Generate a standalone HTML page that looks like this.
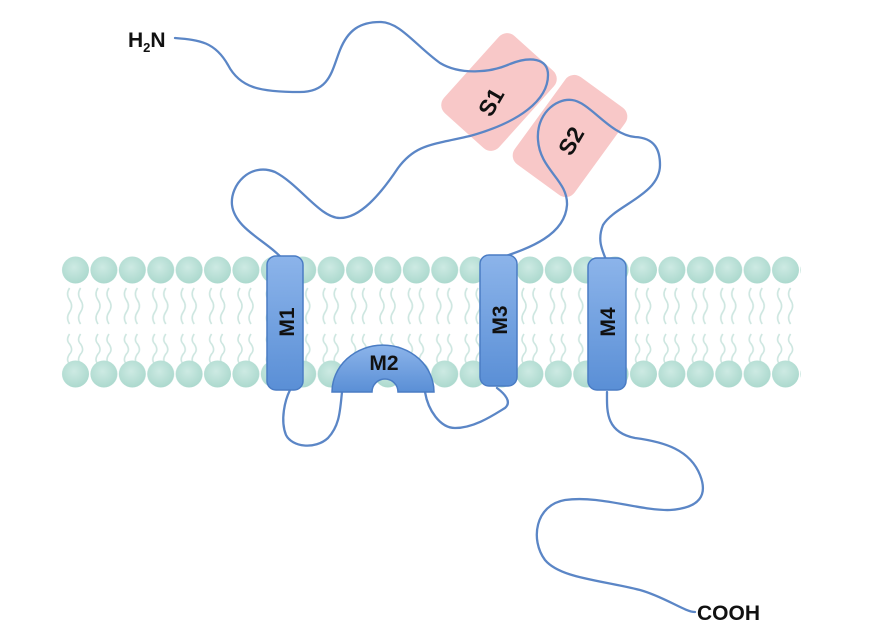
<!DOCTYPE html>
<html><head><meta charset="utf-8"><style>
html,body{margin:0;padding:0;background:#fff;}
svg{display:block}
text{font-family:"Liberation Sans",sans-serif;font-weight:bold;}
</style></head><body>
<svg width="885" height="644" viewBox="0 0 885 644" xmlns="http://www.w3.org/2000/svg">
<defs>
<radialGradient id="hg" cx="0.45" cy="0.4" r="0.6">
<stop offset="0" stop-color="#cdeae3"/><stop offset="1" stop-color="#acd9ce"/>
</radialGradient>
<linearGradient id="mg" x1="0" y1="0" x2="0" y2="1">
<stop offset="0" stop-color="#8cb4ea"/><stop offset="1" stop-color="#5a8fd6"/>
</linearGradient>
<pattern id="tails" x="61.6" y="0" width="28.4" height="644" patternUnits="userSpaceOnUse">
<g fill="none" stroke="#cde6e0" stroke-width="1.6">
<path d="M8 288 q-4 6 0 12 q4 6 0 12 q-4 6 0 12"/>
<path d="M19 288 q-4 6 0 12 q4 6 0 12 q-4 6 0 12"/>
<path d="M8 334 q-4 6 0 10 q4 6 0 10 q-4 6 0 10"/>
<path d="M19 334 q-4 6 0 10 q4 6 0 10 q-4 6 0 10"/>
</g>
</pattern>
<pattern id="heads" x="61.6" y="0" width="28.4" height="644" patternUnits="userSpaceOnUse">
<circle cx="13.9" cy="270" r="13.5" fill="url(#hg)"/>
<circle cx="13.9" cy="374" r="13.5" fill="url(#hg)"/>
</pattern>
</defs>
<rect x="61" y="285" width="740" height="80" fill="url(#tails)"/>
<rect x="61" y="255" width="740" height="135" fill="url(#heads)"/>

<!-- S boxes -->
<g fill="#f8c4c4" opacity="0.92">
<rect x="-52" y="-37" width="104" height="74" rx="11" transform="translate(499,92) rotate(-48)"/>
<rect x="-54" y="-37" width="108" height="74" rx="11" transform="translate(570,136) rotate(-54)"/>
</g>

<!-- chain -->
<g fill="none" stroke="#5b86c6" stroke-width="2.3" stroke-linecap="round" stroke-linejoin="round">
<path d="M175 38 C200 40 215 42 228 65 C240 88 260 92 300 92 C330 92 332 70 340 50 C348 30 360 22 380 22 C400 22 415 45 440 63 C460 75 490 73 510 64 C530 56 548 58 548 75 C548 100 520 122 470 136 C430 145 415 145 398 168 C380 195 360 218 340 218 C320 218 300 185 275 172 C250 162 230 185 232 205 C235 230 270 242 285 262"/>
<path d="M500 258 C530 248 565 235 567 205 C568 180 540 170 538 140 C536 115 555 98 572 100 C590 102 610 135 635 137 C655 138 660 150 660 165 C660 195 615 205 603 225 C597 240 602 250 607 262"/>
<path d="M290 390 C285 400 280 420 286 435 C292 447 315 450 328 438 C340 425 340 410 342 392"/>
<path d="M425 392 C428 410 440 428 455 428 C475 428 495 414 505 408 C512 402 505 394 497 388"/>
<path d="M607 392 C607 410 605 432 635 438 C665 442 690 450 700 475 C708 495 700 508 670 510 C640 511 600 495 565 500 C535 505 530 540 545 560 C560 578 600 580 640 590 C665 597 685 612 695 612"/>
</g>

<!-- M helices -->
<g fill="url(#mg)" stroke="#4a7cc4" stroke-width="1.5">
<rect x="267" y="256" width="36" height="134" rx="9"/>
<rect x="480" y="255" width="37" height="131" rx="9"/>
<rect x="588" y="258" width="38" height="132" rx="9"/>
<path d="M332 392 A50 46 0 0 1 434 392 L398 392 A13 13 0 0 0 372 392 Z"/>
</g>

<g font-size="21" fill="#111">
<text transform="translate(294,322) rotate(-90)" text-anchor="middle">M1</text>
<text transform="translate(507,320) rotate(-90)" text-anchor="middle">M3</text>
<text transform="translate(615,322) rotate(-90)" text-anchor="middle">M4</text>
<text x="384" y="370" text-anchor="middle">M2</text>
<text transform="translate(498,106) rotate(-60)" text-anchor="middle" font-size="23">S1</text>
<text transform="translate(578,145) rotate(-60)" text-anchor="middle" font-size="23">S2</text>
<text x="128" y="47">H<tspan font-size="13" dy="5">2</tspan><tspan dy="-5">N</tspan></text>
<text x="697" y="620">COOH</text>
</g>
</svg>
</body></html>
